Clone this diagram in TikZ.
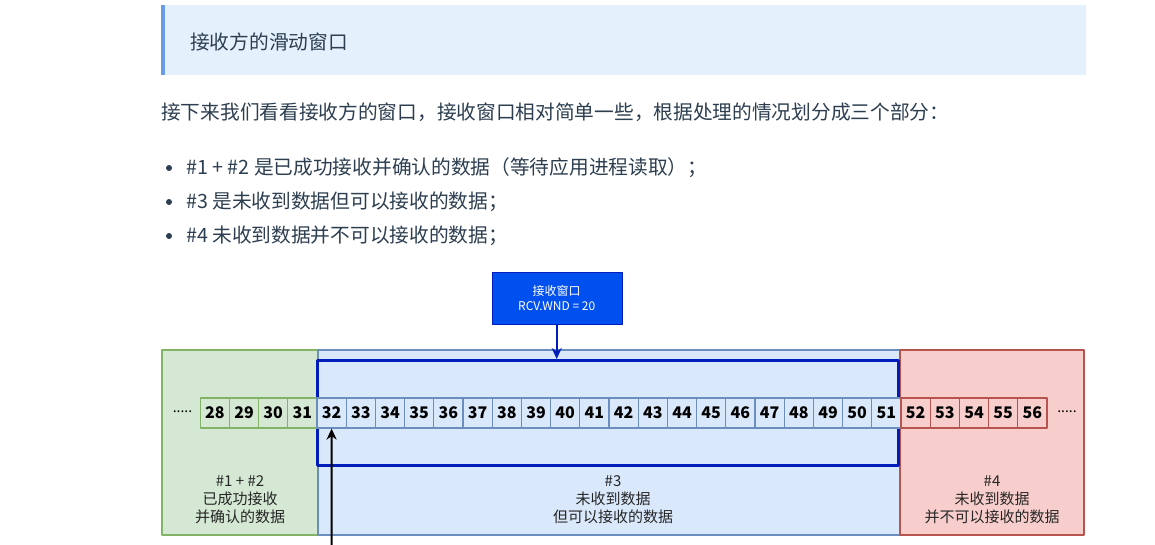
\documentclass[tikz,border=0pt]{standalone}
\usepackage{fontspec}
\setmainfont{Noto Sans CJK SC}
\usetikzlibrary{positioning,arrows.meta}
\definecolor{txt}{HTML}{2C3E50}
\definecolor{hdbg}{HTML}{E4F0FC}
\definecolor{hdbar}{HTML}{6A9BE8}
\definecolor{gfill}{HTML}{D5E8D4}
\definecolor{gline}{HTML}{82B366}
\definecolor{bfill}{HTML}{DAE8FC}
\definecolor{bline}{HTML}{6C8EBF}
\definecolor{rfill}{HTML}{F8CECC}
\definecolor{rline}{HTML}{B85450}
\definecolor{wnd}{HTML}{001DBC}
\definecolor{wndbox}{HTML}{0050EF}
\tikzset{
  body/.style={inner sep=0pt, text=txt, font=\fontsize{19.7}{24}\selectfont},
  cell/.style={draw, minimum width=29.2pt, minimum height=30pt, inner sep=0pt, line width=1.2pt, font=\fontsize{16}{18}\selectfont\bfseries},
  lbl/.style={align=center, inner sep=0pt, text=black!85, font=\fontsize{15}{18}\selectfont},
  dots/.style={anchor=base, inner sep=0pt, font=\fontsize{14}{16}\selectfont},
}
\begin{document}
\begin{tikzpicture}[x=1pt,y=-1pt,line join=round,>={Stealth[length=11pt,width=10pt]}]
\useasboundingbox[fill=white] (0,0) rectangle (1155,545);
% header and text
\fill[hdbg] (161,5) rectangle (1086,75);
\fill[hdbar] (161,5) rectangle (165,75);
\node[body,anchor=west] (title) at (190,42) {接收方的滑动窗口};
\node[body,anchor=west] (intro) at (161,112) {接下来我们看看接收方的窗口，接收窗口相对简单一些，根据处理的情况划分成三个部分：};
\foreach \y/\t [count=\k] in {168/{\#1 + \#2 是已成功接收并确认的数据（等待应用进程读取）；},202/{\#3 是未收到数据但可以接收的数据；},236/{\#4 未收到数据并不可以接收的数据；}}{
  \fill[txt] (169,\y) circle (3);
  \node[body,anchor=west] (item\k) at (186,\y) {\t};
}
% regions
\draw[gline,fill=gfill,line width=1.5pt] (162,350) rectangle (318,535);
\draw[bline,fill=bfill,line width=1.5pt] (318,350) rectangle (900,535);
\draw[rline,fill=rfill,line width=1.5pt] (900,350) rectangle (1084,535);
% receive window
\node[draw=wnd,line width=3pt,minimum width=580.5pt,minimum height=104.5pt,inner sep=0pt] (win) at (607.75,412.75) {};
% cells
\foreach \i in {28,...,31}
  \node[cell,draw=gline,fill=gfill] (c\i) at ({214.8+(\i-28)*29.2},413) {\i};
\foreach \i in {32,...,51}
  \node[cell,draw=bline,fill=bfill] (c\i) at ({214.8+(\i-28)*29.2},413) {\i};
\foreach \i in {52,...,56}
  \node[cell,draw=rline,fill=rfill] (c\i) at ({214.8+(\i-28)*29.2},413) {\i};
\node[dots] (ldots) at (182.5,412.5) {.....};
\node[dots] (rdots) at (1067,412.5) {.....};
% labels
\node[lbl] (lab12) at (240,500) {\#1 + \#2\\已成功接收\\并确认的数据};
\node[lbl] (lab3) at (613,500) {\#3\\未收到数据\\但可以接收的数据};
\node[lbl] (lab4) at (992,500) {\#4\\未收到数据\\并不可以接收的数据};
% window size box
\node[draw=wnd,fill=wndbox,text=white,minimum width=130pt,minimum height=52pt,align=center,font=\fontsize{12}{15}\selectfont] (rwnd) at (556.7,298) {接收窗口\\RCV.WND = 20};
\draw[->,wnd,line width=2pt] (rwnd) -- (rwnd |- win.north);
% pointer
\coordinate (ptr) at (331.6,545);
\draw[->,line width=2pt] (ptr) -- (c32.south);
\end{tikzpicture}
\end{document}
